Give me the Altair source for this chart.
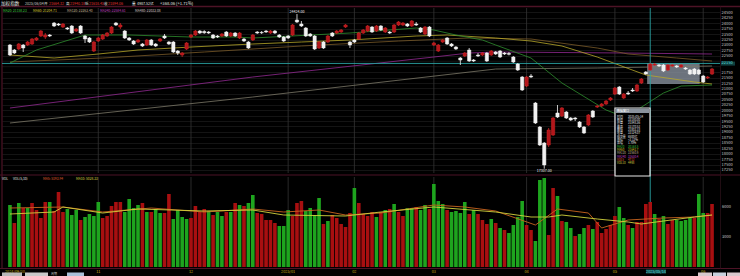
import altair as alt
import pandas as pd

# ---------------- data ----------------
opens = [22998, 22768, 22814, 22998, 22998, 23044, 23228, 23412, 23366, 23458,
         24010, 23964, 23826, 23780, 23872, 23642, 23872, 23412, 23320, 22722,
         23182, 23274, 23412, 23550, 24010, 23826, 23642, 23320, 23182, 23136,
         23044, 22998, 23228, 23044, 23182, 23412, 23136, 23136, 22722, 22538,
         22814, 23366, 23458, 23642, 23620, 23596, 23458, 23412, 23412, 23596,
         23412, 23550, 23320, 23274, 23136, 23228, 23596, 23580, 23642, 23550,
         23642, 23458, 23366, 23412, 23458, 24148, 23964, 23780, 23504, 23412,
         22860, 23136, 23136, 23550, 23550, 23596, 23826, 23136, 23228, 23274,
         23550, 23642, 23826, 23642, 23872, 23596, 23596, 23596, 23918, 23918,
         23964, 23872, 23964, 23780, 23504, 23826, 22998, 22722, 23136, 23320,
         23044, 22906, 22400, 22492, 22768, 22308, 22538, 22538, 22630, 22538,
         22676, 22722, 22630, 22610, 22446, 22124, 21526, 21112, 21572, 20330,
         19226, 18490, 18398, 18858, 19870, 19732, 19916, 19640, 19640, 19456,
         19226, 19318, 19962, 20146, 20192, 20284, 20468, 20744, 21066, 20560,
         20790, 20928, 20882, 21250, 21756, 21848, 22078, 22078, 22078, 21848,
         22032, 22032, 21986, 21940, 21848, 21894, 21848, 21572, 21480, 21664]
closes = [22538, 22630, 23044, 22860, 23136, 23274, 23320, 23642, 23458, 23412,
          23872, 23918, 23964, 23734, 23550, 23734, 23550, 23274, 23136, 23136,
          23320, 23458, 23550, 23826, 23918, 23918, 23320, 23228, 23044, 23228,
          22952, 23228, 22998, 22952, 23274, 23320, 23044, 22676, 22630, 22630,
          23090, 23458, 23642, 23550, 23560, 23550, 23320, 23366, 23504, 23412,
          23550, 23412, 23550, 23182, 22860, 23458, 23550, 23560, 23596, 23642,
          23550, 23366, 23182, 23320, 23918, 24056, 23872, 23412, 23412, 22814,
          23136, 22860, 23412, 23412, 23642, 23688, 23918, 22998, 23136, 23550,
          23688, 23872, 23596, 23872, 23688, 23780, 23550, 23918, 24056, 24010,
          23872, 24102, 23918, 23596, 23826, 23412, 23090, 22998, 23228, 23044,
          22952, 22814, 22308, 22630, 22262, 22262, 22492, 22630, 22262, 22722,
          22584, 22446, 22584, 22570, 22216, 21848, 20928, 21526, 21526, 19410,
          18398, 17478, 19088, 19640, 19686, 20100, 19640, 19548, 19594, 19226,
          18950, 19778, 19686, 20192, 20284, 20422, 20560, 21020, 20744, 20744,
          20744, 20882, 21158, 21434, 21664, 22124, 22124, 22032, 21802, 22078,
          22078, 21986, 22078, 21894, 21664, 21664, 21664, 21296, 21526, 21894]
highs = [23044, 22814, 23090, 23044, 23182, 23320, 23366, 23688, 23550, 23504,
         24056, 24010, 24010, 23826, 23918, 23780, 23918, 23458, 23366, 23182,
         23366, 23504, 23596, 23872, 24056, 24010, 23688, 23366, 23228, 23274,
         23090, 23274, 23274, 23090, 23320, 23504, 23182, 23182, 22768, 22676,
         23136, 23504, 23688, 23688, 23680, 23642, 23504, 23458, 23550, 23642,
         23596, 23596, 23596, 23320, 23182, 23504, 23642, 23642, 23688, 23688,
         23688, 23504, 23412, 23458, 23964, 24424, 24102, 23826, 23550, 23458,
         23182, 23182, 23458, 23596, 23688, 23734, 23964, 23182, 23274, 23596,
         23734, 23918, 23872, 23918, 23918, 23826, 23642, 23964, 24102, 24056,
         24010, 24148, 24056, 23826, 23872, 23872, 23136, 23044, 23274, 23366,
         23090, 22952, 22446, 22676, 22860, 22354, 22630, 22676, 22676, 22768,
         22722, 22768, 22676, 22676, 22492, 22170, 21572, 21572, 21664, 20376,
         19272, 18536, 19180, 19686, 20238, 20146, 19962, 19686, 19686, 19502,
         19272, 19824, 20008, 20238, 20330, 20468, 20606, 21066, 21112, 20790,
         20882, 21020, 21204, 21480, 21802, 22170, 22170, 22124, 22124, 22124,
         22124, 22078, 22124, 21986, 21894, 21940, 21894, 21618, 21572, 21940]
lows = [22492, 22584, 22768, 22676, 22952, 22998, 23182, 23366, 23274, 23366,
        23826, 23872, 23780, 23688, 23504, 23596, 23504, 23090, 23090, 22676,
        23136, 23228, 23366, 23504, 23872, 23734, 23274, 23182, 22998, 23090,
        22906, 22952, 22952, 22906, 23136, 23274, 22998, 22630, 22538, 22446,
        22768, 23320, 23412, 23504, 23510, 23504, 23274, 23320, 23366, 23366,
        23366, 23366, 23274, 23136, 22814, 23182, 23504, 23504, 23550, 23504,
        23504, 23320, 23136, 23274, 23412, 24010, 23826, 23366, 23366, 22768,
        22814, 22814, 23090, 23366, 23504, 23550, 23780, 22860, 23090, 23228,
        23504, 23596, 23550, 23596, 23642, 23550, 23504, 23550, 23872, 23872,
        23826, 23826, 23872, 23550, 23458, 23366, 22952, 22676, 23090, 22998,
        22906, 22768, 22078, 22446, 22216, 22216, 22446, 22492, 22216, 22492,
        22538, 22400, 22538, 22520, 22170, 21802, 20882, 21066, 21480, 19364,
        18352, 17307, 18306, 18812, 19640, 19686, 19594, 19502, 19502, 19180,
        18904, 19272, 19640, 20100, 20146, 20238, 20422, 20698, 20698, 20514,
        20698, 20836, 20836, 21204, 21618, 21802, 22032, 21986, 21756, 21802,
        21986, 21940, 21940, 21848, 21618, 21618, 21618, 21250, 21434, 21618]

volumes = [6200, 4400, 6400, 5900, 5900, 6400, 5700, 4900, 6500, 6500,
           5600, 7500, 5500, 5800, 5200, 5700, 4700, 5000, 5300, 5100,
           6500, 4900, 5100, 6100, 6500, 6500, 5500, 6800, 5900, 6200,
           6400, 5500, 5500, 5800, 5400, 5400, 7300, 4800, 5700, 5000,
           4800, 4900, 6100, 5500, 5800, 5600, 5200, 5500, 5100, 5500,
           5500, 6400, 6200, 6100, 6400, 7200, 5400, 5300, 4700, 4700,
           4400, 4100, 4100, 5700, 5100, 6400, 6600, 5600, 5900, 5200,
           6900, 4300, 4600, 5200, 4900, 4300, 4000, 5400, 7900, 6400,
           5300, 5100, 5500, 5000, 5500, 5700, 5800, 6300, 5500, 5100,
           5900, 5900, 6000, 5700, 6200, 5800, 8300, 6600, 6300, 5700,
           5500, 5600, 5400, 6500, 5300, 5700, 5300, 4700, 4300, 4800,
           4400, 3900, 3700, 3400, 4200, 5000, 6600, 4200, 3700, 2600,
           8700, 8900, 3200, 7900, 7100, 4600, 4500, 3900, 3100, 3300,
           3900, 4200, 3800, 4500, 3400, 3800, 4200, 5100, 6000, 4900,
           4200, 3900, 4500, 4500, 6300, 6500, 5300, 4800, 5100, 4300,
           4700, 4700, 4600, 4700, 4900, 4900, 7300, 5400, 5400, 6300]
vol_colors = list("GRGRGRRRRG" "RRRGGGRGGG" "GRRRRRGGGG" "RGRGGRRGGG"
                  "GRRRRGRGGR" "GRGRGGRRRR" "RGGGRRRGGG" "GRGRRRRRGR"
                  "RRRGRGRGRR" "GGRGGRGGGR" "GGGGRGRRRG" "RGRGGGGRRG"
                  "GGRRGRGGRG" "GRGRRRRRGG" "RGRRRRGRGR" "RGGGGRGGRR")

ma20_i = [0, 6, 17, 27, 41, 51, 55, 77, 92, 96, 101, 107, 110, 118, 125, 135, 138, 142, 148, 152, 159]
ma20_v = [22170, 22768, 23458, 23458, 23366, 23366, 23320, 23550, 23780, 23688, 23458, 23228, 22998,
          22400, 21250, 20008, 19778, 20008, 20790, 21112, 21158]
ma60_i = [0, 10, 20, 29, 41, 55, 66, 77, 92, 99, 110, 118, 125, 133, 144, 155, 159]
ma60_v = [22538, 22400, 22584, 22768, 22906, 23044, 23136, 23228, 23412, 23458, 23320, 23182, 22952,
          22446, 21618, 21296, 21204]
ma120_i = [0, 21, 44, 66, 88, 104, 118, 133, 140, 151, 159]
ma120_v = [22216, 22400, 22676, 22952, 23182, 23320, 23274, 22860, 22584, 22400, 22262]
ma240_i = [0, 55, 96, 104, 110, 139, 159]
ma240_v = [20100, 21526, 22446, 22630, 22676, 22630, 22584]
ma480_i = [0, 55, 110, 133, 159]
ma480_v = [19410, 20606, 21894, 21940, 22032]

vma5_i = [0, 12, 21, 32, 44, 55, 62, 70, 76, 84, 96, 103, 110, 119, 124, 131, 134, 140, 148, 155, 159]
vma5_v = [5900, 6000, 5500, 5900, 5500, 5800, 5500, 5700, 5200, 5400, 6200, 6000, 5600, 4200, 5800,
          5400, 3900, 4700, 4900, 5000, 5200]
vma10_i = [0, 10, 12, 21, 29, 44, 55, 62, 76, 84, 96, 110, 118, 122, 125, 133, 140, 143, 148, 155, 159]
vma10_v = [5300, 5500, 6000, 5400, 5800, 5600, 5700, 5200, 5100, 5500, 6000, 5500, 5000, 5000, 5200,
           4800, 4500, 4300, 4600, 5000, 5200]

month_i = [20, 41, 63, 78, 96, 117, 137, 157]
month_lab = ["11", "12", "2025/01", "02", "03", "04", "05", "06"]
first_lab = "2024/09/30"
price_ticks = [17250, 17500, 17750, 18000, 18250, 18500, 18750, 19000, 19250, 19500,
               19750, 20000, 20250, 20500, 20750, 21000, 21250, 21500, 21750,
               22500, 22750, 23000, 23250, 23500, 23750, 24000, 24250, 24500]
vol_ticks = [3000, 6000]
cursor_i = 145
cursor_price = 22150
cursor_date = "2025/05/14"
box = dict(x1=144.3, x2=156.2, y1=22170, y2=21204)

# ---------------- styling ----------------
FONT = "Noto Sans CJK SC"
RED_F = "#b3161b"
RED_E = "#d02626"
WHITE = "#f2f2f2"
VRED = "#a80f10"
VGRN = "#1ea41e"
MAROON = "#4d1326"
CYAN = "#2aa3a3"
YEL = "#c8aa10"

P_DOM = [17110, 24700]
P_RNG = [165, 0]
V_DOM = [0, 9000]
V_RNG = [259, 169]
X_DOM = [-0.67, 159.67]

dummy = pd.DataFrame({"a": [0]})


def xq(f="i"):
    return alt.X(f"{f}:Q", scale=alt.Scale(domain=X_DOM, nice=False, zero=False), axis=None)


def py(f, axis=None):
    return alt.Y(f"{f}:Q", scale=alt.Scale(domain=P_DOM, range=P_RNG, nice=False, zero=False), axis=axis)


def vy(f):
    return alt.Y(f"{f}:Q", scale=alt.Scale(domain=V_DOM, range=V_RNG, nice=False, zero=True), axis=None)


def T(s, px, pyy, color, size=3.6, align="left"):
    return alt.Chart(dummy).mark_text(text=s, align=align, baseline="middle", fontSize=size,
                                      color=color, font=FONT).encode(
        x=alt.value(px - 2), y=alt.value(pyy - 8))


def R(x1, x2, y1, y2, fill, stroke=None, sw=0, op=1.0):
    kw = dict(fill=fill, opacity=op)
    if stroke:
        kw.update(stroke=stroke, strokeWidth=sw)
    return alt.Chart(dummy).mark_rect(**kw).encode(
        x=alt.value(x1 - 2), x2=alt.value(x2 - 2), y=alt.value(y1 - 8), y2=alt.value(y2 - 8))


def HL(x1, x2, yy, color, sw=1.0):
    return alt.Chart(dummy).mark_rule(color=color, strokeWidth=sw).encode(
        x=alt.value(x1 - 2), x2=alt.value(x2 - 2), y=alt.value(yy - 8))


def VL(xx, y1, y2, color, sw=1.0):
    return alt.Chart(dummy).mark_rule(color=color, strokeWidth=sw).encode(
        x=alt.value(xx - 2), y=alt.value(y1 - 8), y2=alt.value(y2 - 8))


N = len(opens)
cdf = pd.DataFrame({"i": range(N), "o": opens, "c": closes, "h": highs, "l": lows})
up = cdf[cdf.c >= cdf.o]
dn = cdf[cdf.c < cdf.o]
vdf = pd.DataFrame({"i": range(N), "v": volumes, "k": vol_colors})
mdf = pd.DataFrame({"i": month_i, "lab": month_lab})

layers = []

# price axis + grid (drawn behind everything)
price_axis = alt.Axis(orient="right", values=price_ticks, format="d", labelFontSize=4.0,
                      labelColor="#c8c8c8", labelFont=FONT, labelPadding=1, ticks=False,
                      domain=False, grid=True, gridColor="#222222", gridWidth=0.6,
                      labelOverlap=False)
layers.append(alt.Chart(pd.DataFrame({"p": price_ticks})).mark_point(opacity=0).encode(
    x=alt.value(0), y=py("p", price_axis)))
layers.append(alt.Chart(pd.DataFrame({"p": [22000, 22250]})).mark_rule(color="#222222", strokeWidth=0.6).encode(
    x=alt.value(0), x2=alt.value(718), y=py("p")))

# month separators
layers.append(alt.Chart(mdf).mark_rule(color="#333333", strokeWidth=0.8).encode(
    x=xq(), y=alt.value(0), y2=alt.value(165)))
layers.append(alt.Chart(mdf).mark_rule(color="#333333", strokeWidth=0.8).encode(
    x=xq(), y=alt.value(169), y2=alt.value(259)))

# borders
layers += [HL(0, 740, 6.5, MAROON, 1.5), HL(0, 740, 175, MAROON, 1.2), HL(0, 740, 268.5, MAROON, 1.2),
           VL(2, 6.5, 268.5, MAROON, 1.2), VL(720.5, 6.5, 268.5, "#2a1018", 0.8)]

# selection box
layers.append(alt.Chart(pd.DataFrame([box])).mark_rect(fill="#8a94a0", opacity=0.78).encode(
    x=xq("x1"), x2="x2:Q", y=py("y1"), y2="y2:Q"))

# moving averages
for mi, mv, col in [(ma480_i, ma480_v, "#7c7868"), (ma240_i, ma240_v, "#922a92"),
                    (ma120_i, ma120_v, "#7a5a28"), (ma60_i, ma60_v, "#b8a82a"),
                    (ma20_i, ma20_v, "#2f8f2f")]:
    layers.append(alt.Chart(pd.DataFrame({"i": mi, "v": mv})).mark_line(
        color=col, strokeWidth=0.8).encode(x=xq(), y=py("v")))

# cursor lines
layers.append(alt.Chart(pd.DataFrame({"p": [cursor_price]})).mark_rule(color=CYAN, strokeWidth=0.9).encode(
    x=alt.value(0), x2=alt.value(718), y=py("p")))
layers.append(alt.Chart(pd.DataFrame({"i": [cursor_i]})).mark_rule(color=CYAN, strokeWidth=0.9).encode(
    x=xq(), y=alt.value(0), y2=alt.value(259)))

# candles
layers.append(alt.Chart(up).mark_rule(color=RED_E, strokeWidth=0.8).encode(x=xq(), y=py("l"), y2="h:Q"))
layers.append(alt.Chart(dn).mark_rule(color=WHITE, strokeWidth=0.8).encode(x=xq(), y=py("l"), y2="h:Q"))
layers.append(alt.Chart(up).mark_bar(size=3.3, fill=RED_F, stroke=RED_E, strokeWidth=0.5).encode(
    x=xq(), y=py("o"), y2="c:Q"))
layers.append(alt.Chart(dn).mark_bar(size=3.3, fill=WHITE, stroke=WHITE, strokeWidth=0.5).encode(
    x=xq(), y=py("o"), y2="c:Q"))

# max / min labels
hi_i = highs.index(max(highs))
lo_i = lows.index(min(lows))
layers.append(alt.Chart(pd.DataFrame({"i": [hi_i], "p": [max(highs)], "t": [f"{max(highs):.2f}"]})).mark_text(
    fontSize=3.6, color=WHITE, font=FONT, baseline="bottom", dy=-0.5).encode(x=xq(), y=py("p"), text="t:N"))
layers.append(alt.Chart(pd.DataFrame({"i": [lo_i], "p": [min(lows)], "t": [f"{min(lows):.2f}"]})).mark_text(
    fontSize=3.6, color=WHITE, font=FONT, baseline="top", dy=0.5).encode(x=xq(), y=py("p"), text="t:N"))

# cursor price tag on the axis
layers.append(R(721, 735, 61.6, 65.6, "#0f3f3f"))
layers.append(alt.Chart(pd.DataFrame({"p": [cursor_price], "t": [str(cursor_price)]})).mark_text(
    fontSize=4.0, color="#5fe0e0", font=FONT, align="left").encode(x=alt.value(719.5), y=py("p"), text="t:N"))

# volume bars
for k, col in [("R", VRED), ("G", VGRN)]:
    layers.append(alt.Chart(vdf[vdf.k == k]).mark_bar(size=3.6, color=col).encode(x=xq(), y=vy("v")))
for mi, mv, col in [(vma5_i, vma5_v, "#c8641e"), (vma10_i, vma10_v, "#d2d23c")]:
    layers.append(alt.Chart(pd.DataFrame({"i": mi, "v": mv})).mark_line(
        color=col, strokeWidth=0.9).encode(x=xq(), y=vy("v")))
layers.append(alt.Chart(pd.DataFrame({"v": vol_ticks, "t": [str(v) for v in vol_ticks]})).mark_text(
    fontSize=4.0, color="#c8c8c8", font=FONT, align="left").encode(x=alt.value(720), y=vy("v"), text="t:N"))

# x labels
layers.append(alt.Chart(mdf).mark_text(fontSize=3.8, color=YEL, font=FONT, align="center").encode(
    x=xq(), y=alt.value(263.5), text="lab:N"))
layers.append(T(first_lab, 5, 271.5, YEL, 3.8))
layers.append(R(646, 666, 269.3, 273.7, "#0f3f3f"))
layers.append(T(cursor_date, 656, 271.5, "#5fe0e0", 3.8, "center"))

# header row 1
hdr = [("加权指数", 1, "#e8e8e8", 4.6), ("2025/06/04", 25, "#cfcfcf", 3.6),
       ("开", 44, "#e8e8e8", 3.6), ("21664.32", 49, "#e03030", 3.6),
       ("高", 66, "#e8e8e8", 3.6), ("21940.18", 70, "#e03030", 3.6),
       ("低", 85, "#e8e8e8", 3.6), ("21618.45", 89, "#e03030", 3.6),
       ("收", 104, "#e8e8e8", 3.6), ("21894.06", 108, "#e03030", 3.6),
       ("量", 132, "#e8e8e8", 3.6), ("4987.52亿", 137, "#e0e0e0", 3.6),
       ("+368.06 (+1.71%)", 160, "#e8e8e8", 4.2)]
for s, x, c, fs in hdr:
    layers.append(T(s, x, 3.5, c, fs))
# header row 2 (MA legend)
leg = [("MA20: 21158.23", 3, "#3cc83c"), ("MA60: 21204.71", 33, "#d8c830"),
       ("MA120: 22262.40", 67, "#c0b090"), ("MA240: 22584.61", 100, "#c040c0"),
       ("MA480: 22032.08", 135, "#d8c8c8")]
for s, x, c in leg:
    layers.append(T(s, x, 11, c, 3.3))

# volume header
for s, x, c in [("VOL", 2, "#e8e8e8"), ("VOL(5,10)", 13, "#e8e8e8"),
                ("MA5: 5193.94", 43, "#e06030"), ("MA10: 5028.33", 76, "#d8d040")]:
    layers.append(T(s, x, 179, c, 3.3))

# info popup
layers.append(R(615, 650, 108, 176, "#000000", "#e8e8e8", 1.2))
layers.append(R(615.6, 649.4, 108.6, 113, "#8a929c"))
layers.append(T("数据窗口", 617, 110.8, "#ffffff", 3.0))
rows = [("时间", "2025/05/14", "#e8e8e8"), ("数值", "22150.00", "#e8e8e8"),
        ("开盘", "21848.36", "#e8e8e8"), ("最高", "22170.52", "#e8e8e8"),
        ("最低", "21802.18", "#e8e8e8"), ("收盘", "22124.07", "#e8e8e8"),
        ("成交量", "6500亿", "#e8e8e8"), ("涨幅", "+2.12%", "#e8e8e8"),
        ("振幅", "1.70%", "#e8e8e8"), ("MA20", "20168.5", "#3cc83c"),
        ("MA60", "21642.7", "#d8c830"), ("MA120", "22560.9", "#c0b090"),
        ("MA240", "22630.4", "#c040c0"), ("VOL5", "4712", "#e06030"),
        ("VOL10", "4498", "#d8d040")]
for k, (a, b, c) in enumerate(rows):
    yy = 116.5 + k * 3.35
    layers.append(T(a, 617, yy, c, 2.9))
    layers.append(T(b, 628, yy, c, 2.9))

# bottom strip buttons
layers += [R(2, 22, 272.5, 276, "#b8b8b8"), R(25, 48, 272.5, 276, "#c8c8c8"),
           T("周期", 51, 274.3, "#c8c8c8", 3.0), R(67, 84, 272.5, 276, "#a8c0d8"),
           R(698, 712, 272.5, 276, "#d8c8cc"), R(713, 726, 272.5, 276, "#c8d0dc"),
           R(727, 740, 272.5, 276, "#d8c8cc")]

chart = alt.layer(*layers).resolve_scale(y="independent").properties(
    width=718, height=268,
    padding={"left": 2, "top": 8, "right": 20, "bottom": 0},
    autosize=alt.AutoSizeParams(type="none"),
    background="#000000",
).configure_view(strokeWidth=0)

chart.save("out.html", embed_options={"renderer": "svg", "actions": False})
